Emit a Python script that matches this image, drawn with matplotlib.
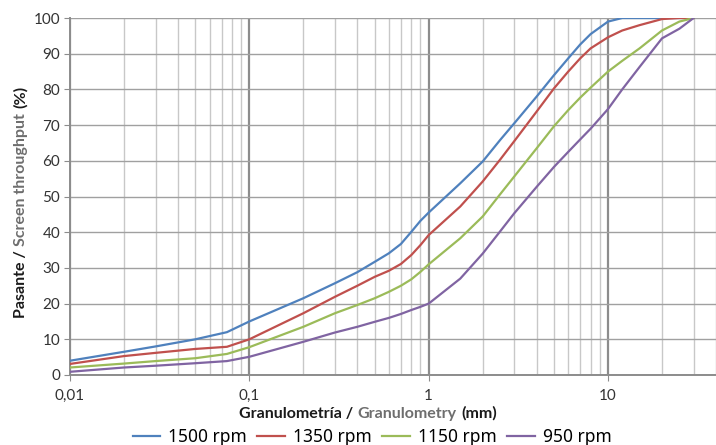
import numpy as np
import matplotlib
matplotlib.use("Agg")
import matplotlib.pyplot as plt
from matplotlib.ticker import FixedLocator, FixedFormatter, NullFormatter

# tamaños de partícula (mm)
size_mm = [0.01, 0.02, 0.03, 0.05, 0.075, 0.1, 0.2, 0.3, 0.4, 0.5, 0.6, 0.7, 0.8, 0.9, 1,
           1.5, 2, 2.5, 3, 4, 5, 6, 7, 8, 10, 12, 15, 20, 25, 30]

# pasante (%) por velocidad del rotor
rpm_1500 = [4.0, 6.5, 8.0, 10.0, 12.0, 15.0, 21.5, 25.7, 28.8, 31.7, 34.1, 36.7, 40.1, 43.2, 45.5,
            53.7, 59.8, 65.8, 70.5, 78.0, 84.0, 88.7, 92.6, 95.5, 99.0, 100, 100, 100, 100, 100]
rpm_1350 = [3.1, 5.3, 6.2, 7.3, 7.9, 10.0, 17.3, 21.9, 25.0, 27.5, 29.2, 31.1, 33.6, 36.4, 39.2,
            47.2, 54.2, 60.3, 65.5, 73.8, 80.3, 85.0, 88.7, 91.5, 94.6, 96.5, 98.0, 99.7, 100, 100]
rpm_1150 = [2.1, 3.2, 3.9, 4.7, 5.9, 7.8, 13.5, 17.3, 19.6, 21.5, 23.3, 25.0, 26.8, 28.9, 31.0,
            38.3, 44.4, 50.6, 55.6, 63.5, 69.7, 74.2, 77.7, 80.5, 85.0, 88.0, 91.5, 96.5, 99.0, 100]
rpm_950 = [0.9, 2.1, 2.6, 3.3, 3.9, 5.1, 9.3, 11.9, 13.5, 14.9, 16.0, 17.1, 18.2, 19.1, 20.0,
           27.0, 34.0, 40.2, 45.3, 52.7, 58.3, 62.5, 66.0, 69.0, 74.5, 80.0, 86.3, 94.3, 97.0, 100]

series = [("1500 rpm", rpm_1500, "#4F81BD"),
          ("1350 rpm", rpm_1350, "#C0504D"),
          ("1150 rpm", rpm_1150, "#9BBB59"),
          ("950 rpm", rpm_950, "#8064A2")]

x_ticks = [0.01, 0.1, 1, 10]
x_tick_labels = ["0,01", "0,1", "1", "10"]
y_ticks = list(range(0, 101, 10))

plt.rcParams['font.family'] = ['Lato', 'DejaVu Sans']

fig = plt.figure(figsize=(7.16, 4.45), dpi=100)
ax = fig.add_axes([70 / 716, 1 - 375 / 445, 646 / 716, 357 / 445])

for name, vals, col in series:
    ax.plot(size_mm, vals, color=col, lw=1.6, label=name, zorder=3)

ax.set_xscale("log")
ax.set_xlim(0.01, 40)
ax.set_ylim(0, 100)

minors = [m * 10.0 ** e for e in range(-2, 2) for m in range(2, 10)]
ax.xaxis.set_major_locator(FixedLocator(x_ticks))
ax.xaxis.set_major_formatter(FixedFormatter(x_tick_labels))
ax.xaxis.set_minor_locator(FixedLocator(minors))
ax.xaxis.set_minor_formatter(NullFormatter())
ax.set_yticks(y_ticks)

ax.grid(True, which="major", axis="x", color="#8c8c8c", lw=1.6, zorder=1)
ax.grid(True, which="minor", axis="x", color="#c8c8c8", lw=1.0, zorder=1)
ax.grid(True, which="major", axis="y", color="#a0a0a0", lw=1.0, zorder=1)

for s in ["top", "right"]:
    ax.spines[s].set_visible(False)
for s in ["left", "bottom"]:
    ax.spines[s].set_color("#8c8c8c")
    ax.spines[s].set_linewidth(1.4)

ax.tick_params(axis="y", which="major", length=4, color="#8c8c8c", labelsize=11,
               labelcolor="#333333", pad=3)
ax.tick_params(axis="x", which="major", length=4, color="#8c8c8c", labelsize=11,
               labelcolor="#333333", pad=6)
ax.tick_params(axis="x", which="minor", length=0)


def color_label(parts, x_px, y_px, vertical=False, size=11, gap=4.5):
    # texto con varios colores, centrado en (x_px, y_px); las piezas van separadas por un espacio
    renderer = fig.canvas.get_renderer()
    W, H = fig.bbox.width, fig.bbox.height

    widths = []
    for s, c, wt in parts:
        t = fig.text(0, 0, s, fontsize=size, fontweight=wt)
        widths.append(t.get_window_extent(renderer).width)
        t.remove()
    total = sum(widths) + gap * (len(parts) - 1)
    pos = -total / 2
    for (s, c, wt), wd in zip(parts, widths):
        if vertical:
            fig.text(x_px / W, 1 - (y_px - pos) / H, s, color=c, fontsize=size,
                     fontweight=wt, rotation=90, rotation_mode="anchor",
                     ha="left", va="baseline")
        else:
            fig.text((x_px + pos) / W, 1 - y_px / H, s, color=c, fontsize=size,
                     fontweight=wt, ha="left", va="baseline")
        pos += wd + gap


color_label([("Granulometría /", "#1a1a1a", "bold"),
             ("Granulometry", "#6e6e6e", "bold"), ("(mm)", "#1a1a1a", "bold")],
            368, 418, size=11.5)
color_label([("Pasante /", "#1a1a1a", "bold"),
             ("Screen throughput", "#6e6e6e", "bold"), ("(%)", "#1a1a1a", "bold")],
            25, 202, vertical=True, size=11.5)

fig.legend(loc="center", bbox_to_anchor=(372 / 716, 1 - 437 / 445), ncol=4,
           frameon=False, handlelength=1.6, columnspacing=0.6,
           handletextpad=0.45, prop={"family": "Noto Sans", "weight": "medium", "size": 12.5})

fig.savefig("out.png", dpi=100)
